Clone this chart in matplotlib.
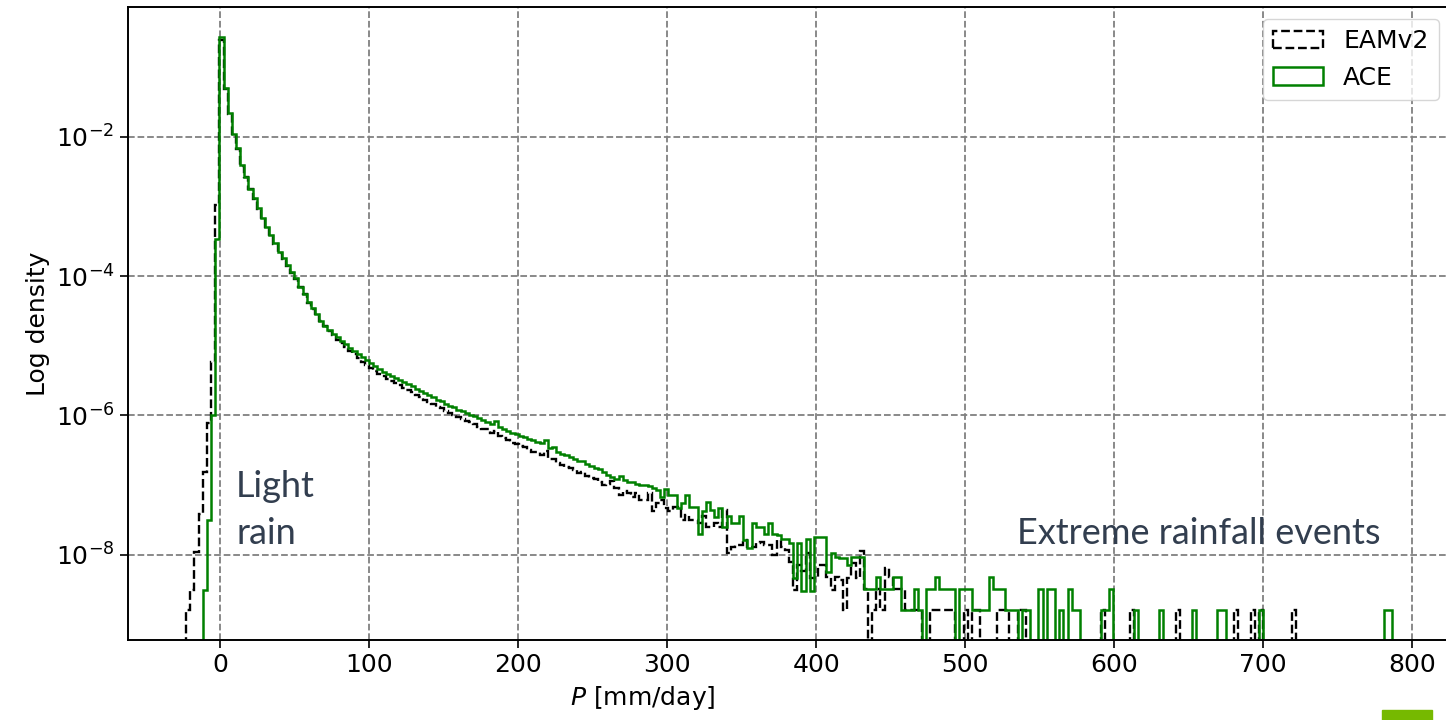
"""
Precipitation histogram (log density) of EAMv2 vs ACE, values read off the reference figure.
"""
import numpy as np
import matplotlib
matplotlib.use("Agg")
import matplotlib.pyplot as plt
from matplotlib.patches import Rectangle
from matplotlib.ticker import NullLocator

# shared histogram bins [mm/day]
P_MIN = -22.8
BIN_WIDTH = 2.79
N_BINS = 290

# log10 density of a bin that holds a single event
ONE_EVENT_LOG = -8.80

# EAMv2: log10 density for bins 0..162, then event counts in the sparse tail
EAM_FIRST_BIN = 0
eam_logdens = [
    -8.80, -8.51, -7.96, -7.41, -6.81, -6.11, -5.23, -2.97, -0.60, -1.31,
    -1.67, -1.96, -2.17, -2.41, -2.58, -2.75, -2.89, -3.03, -3.18, -3.30,
    -3.42, -3.54, -3.66, -3.75, -3.85, -3.95, -4.04, -4.16, -4.26, -4.38,
    -4.47, -4.56, -4.65, -4.72, -4.79, -4.85, -4.91, -4.96, -5.02, -5.08,
    -5.12, -5.18, -5.23, -5.27, -5.32, -5.36, -5.40, -5.44, -5.47, -5.51,
    -5.54, -5.57, -5.61, -5.63, -5.67, -5.70, -5.74, -5.78, -5.81, -5.84,
    -5.88, -5.90, -5.94, -5.96, -5.99, -6.03, -6.05, -6.08, -6.10, -6.13,
    -6.16, -6.19, -6.20, -6.25, -6.22, -6.30, -6.33, -6.35, -6.39, -6.41,
    -6.44, -6.45, -6.49, -6.52, -6.53, -6.57, -6.51, -6.63, -6.62, -6.69,
    -6.71, -6.74, -6.76, -6.79, -6.83, -6.82, -6.87, -6.90, -6.92, -6.95,
    -7.00, -6.99, -6.94, -7.05, -7.14, -7.08, -7.12, -7.17, -7.12, -7.21,
    -7.21, -7.12, -7.38, -7.26, -7.21, -7.33, -7.38, -7.31, -7.31, -7.50,
    -7.43, -7.50, -7.50, -7.55, -7.45, -7.60, -7.60, -7.55, -7.60, -7.36,
    -7.98, -7.89, -7.86, -7.86, -7.79, -7.89, -7.89, -7.84, -7.82, -7.86,
    -7.86, -8.00, -7.79, -7.89, -7.94, -8.10, -8.51, -8.15, -8.24, -7.98,
    -8.34, -8.34, -8.15, -8.15, -8.32, -8.51, -8.32, -8.37, -8.80, -8.34,
    -8.12, -8.34, -7.95,
]
eam_tail = {
    163: 2, 165: 1, 166: 2, 167: 1, 168: 4, 169: 3, 170: 2, 171: 2, 172: 2,
    173: 1, 174: 1, 175: 1, 176: 1, 179: 1, 180: 1, 181: 1, 182: 1, 183: 1,
    184: 1, 187: 1, 189: 1, 190: 1, 195: 1, 196: 1, 197: 1, 200: 1, 201: 1,
    220: 1, 227: 1, 238: 1, 252: 1, 256: 1, 258: 1, 266: 1,
}

# ACE: log10 density for bins 4..162, then event counts in the sparse tail
ACE_FIRST_BIN = 4
ace_logdens = [
    -8.51, -7.50, -6.00, -3.46, -0.56, -1.30,
    -1.66, -1.95, -2.16, -2.40, -2.57, -2.74, -2.88, -3.02, -3.17, -3.29,
    -3.41, -3.53, -3.65, -3.74, -3.84, -3.94, -4.03, -4.15, -4.25, -4.37,
    -4.46, -4.55, -4.64, -4.71, -4.77, -4.83, -4.88, -4.93, -4.98, -5.03,
    -5.07, -5.12, -5.16, -5.21, -5.25, -5.29, -5.33, -5.37, -5.40, -5.43,
    -5.46, -5.49, -5.52, -5.55, -5.58, -5.62, -5.65, -5.68, -5.71, -5.74,
    -5.78, -5.80, -5.83, -5.86, -5.88, -5.92, -5.94, -5.96, -5.99, -6.01,
    -6.04, -6.06, -6.09, -6.12, -6.08, -6.17, -6.19, -6.22, -6.25, -6.27,
    -6.29, -6.31, -6.34, -6.36, -6.38, -6.40, -6.35, -6.47, -6.46, -6.52,
    -6.55, -6.57, -6.60, -6.63, -6.66, -6.66, -6.70, -6.73, -6.75, -6.77,
    -6.81, -6.85, -6.88, -6.92, -6.87, -6.93, -6.95, -6.96, -6.98, -7.00,
    -7.00, -7.02, -7.04, -7.07, -7.17, -7.06, -7.14, -7.14, -7.33, -7.26,
    -7.14, -7.31, -7.31, -7.70, -7.38, -7.25, -7.36, -7.46, -7.33, -7.60,
    -7.45, -7.55, -7.55, -7.45, -7.79, -7.91, -7.55, -7.60, -7.60, -7.70,
    -7.54, -7.70, -7.72, -7.77, -7.77, -7.84, -8.34, -7.84, -8.53, -7.77,
    -8.53, -7.75, -7.74, -7.74, -8.25, -7.98, -8.03, -8.05, -8.05, -8.15,
    -8.03, -8.03, -8.03,
]
ace_tail = {
    163: 2, 164: 2, 165: 2, 166: 3, 167: 2, 168: 2, 169: 2, 170: 3, 171: 3,
    172: 1, 173: 1, 174: 1, 175: 2, 176: 1, 178: 2, 179: 2, 180: 3, 181: 2,
    182: 2, 183: 2, 184: 2, 186: 2, 187: 2, 188: 2, 189: 1, 190: 1, 191: 1,
    192: 1, 193: 3, 194: 2, 195: 2, 196: 2, 197: 1, 198: 1, 199: 1, 201: 1,
    202: 1, 205: 2, 207: 2, 208: 2, 210: 1, 212: 2, 213: 1, 214: 1, 220: 1,
    221: 1, 222: 2, 228: 1, 234: 1, 242: 1, 248: 1, 249: 1, 258: 1, 288: 1,
    289: 1,
}


def bin_density(first_bin, logdens, tail):
    dens = np.zeros(N_BINS)
    dens[first_bin:first_bin + len(logdens)] = 10.0 ** np.array(logdens)
    for k, n in tail.items():
        dens[k] = n * 10.0 ** ONE_EVENT_LOG
    return dens


edges = P_MIN + BIN_WIDTH * np.arange(N_BINS + 1)
centers = 0.5 * (edges[:-1] + edges[1:])
eam = bin_density(EAM_FIRST_BIN, eam_logdens, eam_tail)
ace = bin_density(ACE_FIRST_BIN, ace_logdens, ace_tail)

plt.rcParams["font.size"] = 18

fig = plt.figure(figsize=(14.46, 7.2), dpi=100)
ax = fig.add_axes([0.0882, 0.1111, 0.9153, 0.8792])

ax.hist(centers, bins=edges, weights=eam, histtype="step", color="black",
        linestyle="--", linewidth=1.7, log=True, label="EAMv2")
ax.hist(centers, bins=edges, weights=ace, histtype="step", color="green",
        linewidth=1.8, log=True, label="ACE")

ax.set_xlim(-62.1, 826)
ax.set_ylim(10 ** -9.227, 10 ** -0.132)
ax.set_yticks([1e-8, 1e-6, 1e-4, 1e-2])
ax.yaxis.set_minor_locator(NullLocator())
ax.set_axisbelow(True)
ax.grid(True, linestyle="--", color="gray", linewidth=1.3)
ax.tick_params(length=6, width=1.2)
for sp in ax.spines.values():
    sp.set_linewidth(1.4)

ax.set_xlabel("$P$ [mm/day]")
ax.xaxis.set_label_coords(0.389, -0.07)
ax.set_ylabel("Log density")
ax.legend(loc="upper right")

note_color = "#323e4f"
ax.text(10.7, 10 ** -7.17, "Light", family="Lato", fontsize=26,
        color=note_color, va="baseline")
ax.text(10.7, 10 ** -7.85, "rain", family="Lato", fontsize=26,
        color=note_color, va="baseline")
ax.text(535, 10 ** -7.85, "Extreme rainfall events", family="Lato",
        fontsize=26, color=note_color, va="baseline")

# corner of the slide logo
fig.patches.append(Rectangle((1382 / 1446, 0), 50 / 1446, 10 / 720,
                             transform=fig.transFigure, color="#76b900"))

fig.savefig("out.png", dpi=100)
